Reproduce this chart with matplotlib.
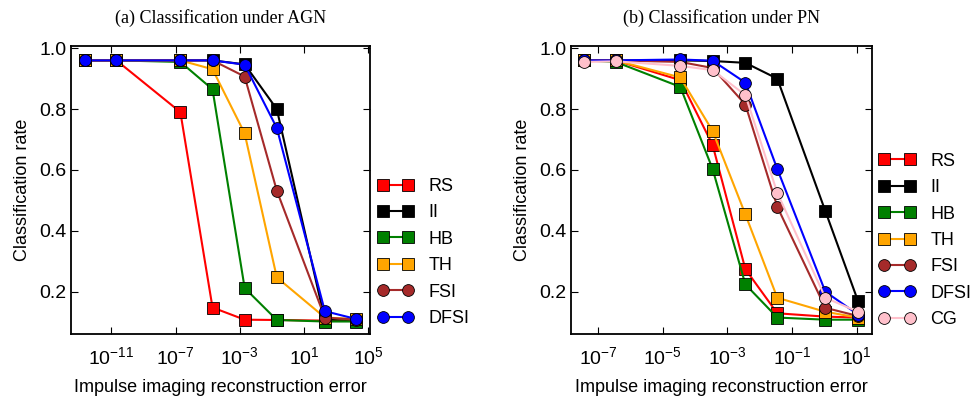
import matplotlib
matplotlib.use('Agg')
import matplotlib.pyplot as plt
from matplotlib.ticker import NullLocator, FixedLocator

plt.rcParams.update({
    'font.family': 'Liberation Sans',
    'font.size': 12,
    'mathtext.default': 'regular',
    'axes.linewidth': 1.3,
    'xtick.direction': 'in',
    'ytick.direction': 'in',
    'xtick.top': True,
    'ytick.right': True,
    'xtick.major.size': 5,
    'ytick.major.size': 5,
    'xtick.major.width': 0.8,
    'ytick.major.width': 0.8,
    'xtick.major.pad': 9,
    'ytick.major.pad': 3,
    'xtick.labelsize': 14,
    'ytick.labelsize': 14,
})

# (a) AGN
agn_err = [2.2e-13, 2.1e-11, 2.0e-7, 2.0e-5, 2.0e-3, 0.2, 195, 1.8e4]
agn_rs = [0.96, 0.96, 0.79, 0.148, 0.108, 0.107, 0.105, 0.105]
agn_ii = [0.96, 0.96, 0.96, 0.96, 0.947, 0.80, 0.108, 0.108]
agn_hb = [0.96, 0.96, 0.955, 0.865, 0.212, 0.107, 0.102, 0.102]
agn_th = [0.96, 0.96, 0.96, 0.931, 0.72, 0.247, 0.115, 0.11]
agn_fsi = [0.96, 0.96, 0.96, 0.96, 0.907, 0.532, 0.115, 0.108]
agn_dfsi = [0.96, 0.96, 0.96, 0.96, 0.946, 0.738, 0.136, 0.11]

# (b) PN
pn_err = [3.8e-8, 3.5e-7, 3.5e-5, 3.5e-4, 3.6e-3, 3.5e-2, 1.07, 11.0]
pn_rs = [0.96, 0.96, 0.895, 0.682, 0.274, 0.129, 0.118, 0.115]
pn_ii = [0.96, 0.96, 0.96, 0.958, 0.952, 0.90, 0.465, 0.169]
pn_hb = [0.96, 0.955, 0.873, 0.603, 0.224, 0.115, 0.108, 0.108]
pn_th = [0.96, 0.96, 0.904, 0.728, 0.454, 0.18, 0.134, 0.115]
pn_fsi = [0.96, 0.96, 0.955, 0.935, 0.815, 0.479, 0.147, 0.12]
pn_dfsi = [0.96, 0.96, 0.963, 0.959, 0.887, 0.603, 0.20, 0.125]
pn_cg = [0.955, 0.957, 0.942, 0.928, 0.846, 0.525, 0.18, 0.134]

styles = {
    'RS': ('s', '#ff0000'),
    'II': ('s', '#000000'),
    'HB': ('s', '#008000'),
    'TH': ('s', '#ffa500'),
    'FSI': ('o', '#a52a2a'),
    'DFSI': ('o', '#0000ff'),
    'CG': ('o', '#ffc0cb'),
}

fig = plt.figure(figsize=(9.74, 3.96), dpi=100)
ax1 = fig.add_axes([0.0729, 0.1566, 0.307, 0.727])
ax2 = fig.add_axes([0.586, 0.1566, 0.309, 0.727])

panels = [
    (ax1, agn_err, [('RS', agn_rs), ('II', agn_ii), ('HB', agn_hb), ('TH', agn_th),
                    ('FSI', agn_fsi), ('DFSI', agn_dfsi)],
     '(a) Classification under AGN', [1e-11, 1e-7, 1e-3, 1e1, 1e5], 0.283),
    (ax2, pn_err, [('RS', pn_rs), ('II', pn_ii), ('HB', pn_hb), ('TH', pn_th),
                   ('FSI', pn_fsi), ('DFSI', pn_dfsi), ('CG', pn_cg)],
     '(b) Classification under PN', [1e-7, 1e-5, 1e-3, 1e-1, 1e1], 0.325),
]

for ax, err, series, title, xt, ly in panels:
    for name, vals in series:
        mk, col = styles[name]
        ax.plot(err, vals, marker=mk, color=col, markerfacecolor=col,
                markeredgecolor='black', markeredgewidth=0.6,
                markersize=8 if mk == 's' else 8.5, linewidth=1.5, label=name)
    ax.set_xscale('log')
    ax.xaxis.set_major_locator(FixedLocator(xt))
    ax.xaxis.set_minor_locator(NullLocator())
    ax.set_yticks([0.2, 0.4, 0.6, 0.8, 1.0])
    ax.set_ylim(0.061, 1.007)
    ax.set_xlabel('Impulse imaging reconstruction error', fontsize=13, labelpad=8)
    ax.set_ylabel('Classification rate', fontsize=13, labelpad=6)
    ax.set_title(title, family='Liberation Serif', fontsize=13, pad=17)
    ax.legend(loc='center left', bbox_to_anchor=(1.0, ly), frameon=False,
              numpoints=2, handlelength=2.0, handletextpad=0.85,
              borderaxespad=0.0, labelspacing=0.52, fontsize=13)

fig.savefig('out.png', dpi=100)
